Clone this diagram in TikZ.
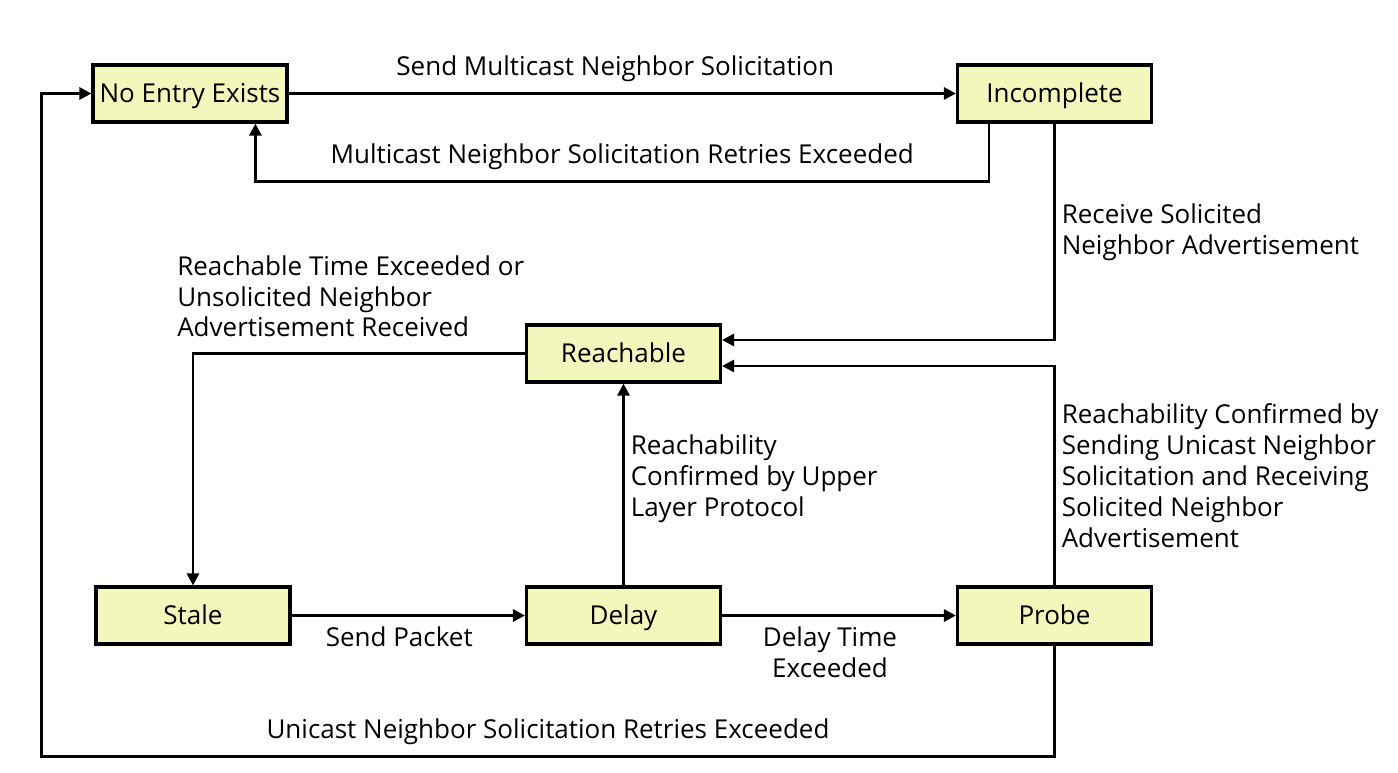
\documentclass[tikz,border=0pt]{standalone}
\usepackage{fontspec}
\setmainfont{Open Sans}
\usepackage{tikz}
\usetikzlibrary{calc}
\usetikzlibrary{positioning}
\usetikzlibrary{arrows.meta}
\definecolor{statefill}{HTML}{F2F7BC}

\begin{document}
\begin{tikzpicture}[x=0.02cm,y=-0.02cm,font=\fontsize{14.8}{17.6}\selectfont]
\tikzstyle{state}=[rectangle,align=center,draw,line width=1.8pt,fill=statefill,text height=10.5pt,text depth=0pt,minimum width=3.88cm,minimum height=1.14cm]
\tikzstyle{arr}=[line width=1.6pt,-{Triangle[length=0.24cm,width=0.24cm]}]
\useasboundingbox (0,0) rectangle (1398,773);
\node[state] at(190, 93.5) (noentry) {No Entry Exists};
\node[state] at(1054.5, 93.5) (incomplete) {Incomplete};
\node[state] at(623.5, 353.5) (reachable) {Reachable};
\node[state] at(193, 615.5) (stale) {Stale};
\node[state] at(623.5, 615.5) (delay) {Delay};
\node[state] at(1054.5, 615.5) (probe) {Probe};

\draw[arr] (noentry) -- node[above,xshift=-0.14cm,yshift=0.08cm] {Send Multicast Neighbor Solicitation} (incomplete);
\draw[arr] ([xshift=0.66cm]incomplete.south west) -- ++(0,58)
  -| node[pos=0.25,above,yshift=0.1cm] {Multicast Neighbor Solicitation Retries Exceeded} ([xshift=3.28cm]noentry.south west);
\draw[arr] (incomplete.south) |- node[pos=0.25,right,align=left] {Receive Solicited\\Neighbor Advertisement} ([yshift=0.27cm]reachable.east);
\draw[arr] (probe.north) |- node[pos=0.25,right,align=left] {Reachability Confirmed by\\Sending Unicast Neighbor\\Solicitation and Receiving\\Solicited Neighbor\\Advertisement} ([yshift=-0.25cm]reachable.east);
\draw[arr] (reachable.west) -| node[pos=0.5,anchor=south west,xshift=-0.46cm,yshift=0.18cm,align=left] {Reachable Time Exceeded or\\Unsolicited Neighbor\\Advertisement Received} (stale.north);
\draw[arr] (stale) -- node[below,xshift=-0.18cm,yshift=-0.08cm] {Send Packet} (delay);
\draw[arr] (delay) -- node[right,align=left,yshift=0.12cm] {Reachability\\Confirmed by Upper\\Layer Protocol} (reachable);
\draw[arr] (delay) -- node[below,align=center,xshift=-0.18cm,yshift=-0.08cm] {Delay Time\\Exceeded} (probe);
\draw[arr] (probe.south) -- ++(0,111)
  -| node[pos=0.25,above,yshift=0.1cm] {Unicast Neighbor Solicitation Retries Exceeded} ([xshift=-1cm]noentry.west) -- (noentry.west);
\end{tikzpicture}
\end{document}
